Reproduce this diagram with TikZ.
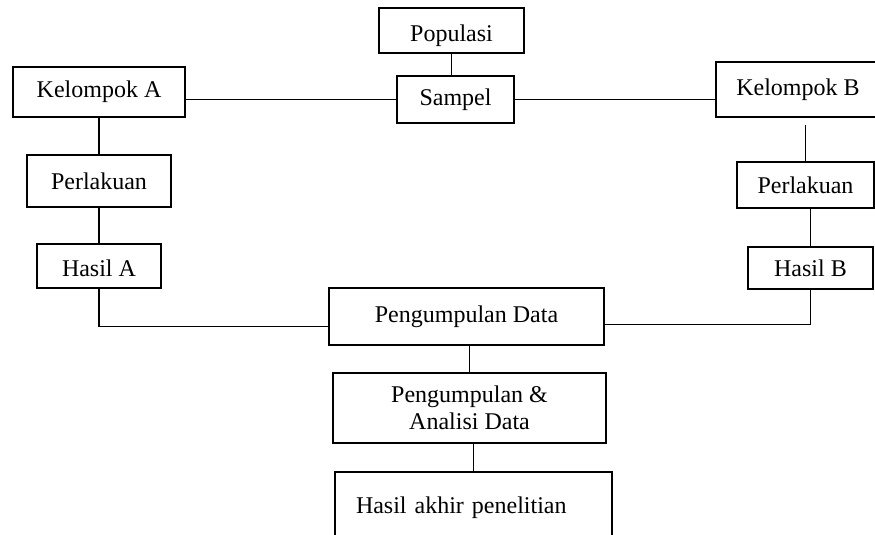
\documentclass[tikz,border=0pt]{standalone}
\usepackage{fontspec}
\setmainfont{Liberation Serif}
\begin{document}
\begin{tikzpicture}[x=0.5pt, y=-0.5pt, font=\fontsize{12}{13.5}\selectfont,
        box/.style={draw, line width=1pt, inner sep=0pt},
        link/.style={line width=0.85pt}]
        % Page frame
        \useasboundingbox (0,0) rectangle (875,535);
        \clip (0,0) rectangle (875,535);
        % Population and sample
        \node[box, minimum width=72.5pt, minimum height=22.5pt, text height=14pt] (pop) at (451.5,30.5) {Populasi};
        \node[box, minimum width=58.5pt, minimum height=23.5pt] (sampel) at (455.5,99.5) {Sampel};
        % Group A (left branch)
        \node[box, minimum width=86pt, minimum height=25pt] (kelA) at (99,92) {Kelompok A};
        \node[box, minimum width=72pt, minimum height=26pt] (perA) at (99,181) {Perlakuan};
        \node[box, minimum width=62pt, minimum height=22pt, text height=11pt] (hasA) at (99,266) {Hasil A};
        % Group B (right branch, runs off the page)
        \node[box, minimum width=82pt, minimum height=27.5pt] (kelB) at (798,89.5) {Kelompok B};
        \node[box, minimum width=68.5pt, minimum height=23pt] (perB) at (805.5,185) {Perlakuan};
        \node[box, minimum width=62.5pt, minimum height=21pt] (hasB) at (810.5,268) {Hasil B};
        % Data collection and analysis
        \node[box, minimum width=137.5pt, minimum height=28.5pt] (data) at (466.5,316.5) {Pengumpulan Data\hspace{7pt}};
        \node[box, minimum width=136.5pt, minimum height=35pt, align=center] (anal) at (469.5,408) {Pengumpulan \&\\ Analisi Data};
        % Final result (bottom edge cut off)
        \node[box, anchor=north, inner xsep=10.5pt, inner ysep=4pt, text width=117.5pt, align=left,
            text height=17pt, text depth=40pt] (akhir) at (473.5,471) {Hasil akhir penelitian};
        % Connectors
        \draw[link] (pop.south) -- (pop.south |- sampel.north);
        \draw[link] (kelA.east |- sampel.west) -- (sampel.west);
        \draw[link] (sampel.east) -- (sampel.east -| kelB.west);
        \draw[link] (kelA) -- (perA);
        \draw[link] (perA) -- (hasA);
        \draw[link] (hasA.south) |- ([yshift=-5pt]data.west);
        \draw[link] ([yshift=-3.5pt]kelB.south -| perB.north) -- (perB.north);
        \draw[link] (perB.south -| hasB.north) -- (hasB.north);
        \draw[link] (hasB.south) |- ([yshift=-4pt]data.east);
        \draw[link] (anal.north |- data.south) -- (anal.north);
        \draw[link] (akhir.north |- anal.south) -- (akhir.north);
\end{tikzpicture}
\end{document}
